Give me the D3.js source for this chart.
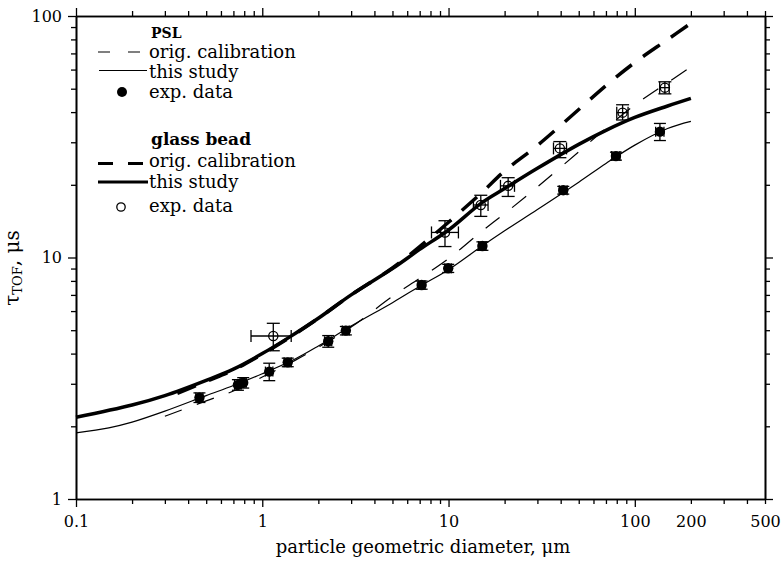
<!DOCTYPE html>
<html>
<head>
<meta charset="utf-8">
<script src="https://cdn.jsdelivr.net/npm/d3@7"></script>
<style>
  body { margin: 0; background: #fff; }
  svg { display: block; }
  text { font-family: "DejaVu Serif", serif; fill: #000; }
</style>
</head>
<body>
<svg id="chart" width="783" height="565"></svg>
<script>
// ---- model curves: diameter (µm) and time of flight (µs) ----
const glassFitD   = [0.1, 0.2, 0.3, 0.5, 0.7, 1.0, 1.4, 2, 3, 5, 7, 10, 15, 20, 30, 50, 70, 100, 150, 200];
const glassFitTau = [2.18, 2.45, 2.68, 3.1, 3.45, 4.0, 4.68, 5.6, 7.0, 9.0, 10.8, 13.0, 16.8, 19.3, 23.4, 29.4, 33.6, 38.0, 42.4, 45.6];

const glassCalD   = [0.35, 0.5, 0.7, 1.0, 1.4, 2, 3, 5, 7, 10, 15, 20, 30, 50, 70, 100, 150, 200];
const glassCalTau = [2.74, 3.07, 3.42, 3.98, 4.66, 5.6, 7.0, 9.05, 11.1, 14.0, 18.5, 22.8, 29.1, 41.0, 51.5, 64.2, 79.9, 93.3];

const pslFitD   = [0.1, 0.15, 0.2, 0.3, 0.5, 0.7, 1.0, 1.5, 2, 3, 5, 7, 10, 15, 20, 30, 50, 70, 100, 150, 200];
const pslFitTau = [1.88, 1.97, 2.08, 2.31, 2.68, 2.95, 3.3, 3.8, 4.3, 5.2, 6.5, 7.6, 8.9, 11.1, 12.9, 15.8, 20.5, 24.5, 29.2, 34.2, 36.6];

const pslCalD   = [0.3, 0.5, 0.7, 1.0, 1.5, 2, 3, 5, 7, 10, 15, 20, 30, 50, 70, 100, 150, 200];
const pslCalTau = [2.2, 2.55, 2.8, 3.2, 3.75, 4.25, 5.15, 6.9, 8.2, 9.9, 12.8, 15.2, 19.6, 27.4, 34.3, 42.8, 53.0, 61.5];

// ---- measurements ----
const pslD      = [0.46, 0.74, 0.79, 1.09, 1.37, 2.26, 2.81, 7.17, 9.96, 15.2, 41.3, 79.2, 136.4];
const pslTau    = [2.63, 2.97, 3.03, 3.37, 3.68, 4.5, 4.98, 7.69, 9.02, 11.16, 19.0, 26.3, 33.2];
const pslTauErr = [0.12, 0.15, 0.15, 0.28, 0.15, 0.25, 0.2, 0.3, 0.35, 0.45, 0.7, 1.0, 2.7];
const pslDErr   = [0.02, 0.03, 0.03, 0.05, 0.06, 0.1, 0.12, 0.3, 0.4, 0.7, 2.0, 4, 7];

const glassD     = [1.146, 9.57, 14.9, 20.9, 39.6, 86, 145];
const glassTau   = [4.73, 12.7, 16.5, 19.8, 28.3, 39.8, 50.5];
const glassTauLo = [4.11, 11.1, 14.8, 17.9, 25.9, 37.1, 47.6];
const glassTauHi = [5.34, 14.2, 18.1, 21.4, 30.2, 42.9, 53.4];
const glassDLo   = [0.87, 8.1, 13.6, 19.0, 36.6, 80, 136];
const glassDHi   = [1.43, 11.3, 16.3, 22.6, 43, 92, 153];

// ---- axis ticks ----
const xMajor = [0.1, 1, 10, 100];
const xMinor = [0.2, 0.3, 0.4, 0.5, 0.6, 0.7, 0.8, 0.9, 2, 3, 4, 5, 6, 7, 8, 9,
                20, 30, 40, 50, 60, 70, 80, 90, 200, 300, 400, 500];
const xMinorLabels = [200, 500];
const yMajor = [1, 10, 100];
const yMinor = [2, 3, 4, 5, 6, 7, 8, 9, 20, 30, 40, 50, 60, 70, 80, 90];

const svg = d3.select("#chart");
const L = 76, R = 765, T = 16, B = 499;
const x = d3.scaleLog().domain([0.1, 500]).range([L, R]);
const y = d3.scaleLog().domain([1, 100]).range([B, T]);

function styleAxis(g) {
  g.select(".domain").attr("stroke", "#000").attr("stroke-width", 1.6);
  g.selectAll(".tick line").attr("stroke", "#000").attr("stroke-width", 1.3);
  g.selectAll(".tick text").attr("font-size", 16).attr("fill", "#000")
    .attr("font-family", "DejaVu Serif, serif");
}

// bottom axis
svg.append("g").attr("transform", `translate(0,${B})`)
  .call(d3.axisBottom(x).tickValues(xMajor).tickSize(8).tickSizeOuter(0).tickPadding(9)
        .tickFormat(d => String(d)))
  .call(styleAxis);
svg.append("g").attr("transform", `translate(0,${B})`)
  .call(d3.axisBottom(x).tickValues(xMinor).tickSize(5).tickSizeOuter(0).tickPadding(12)
        .tickFormat(d => xMinorLabels.includes(d) ? String(d) : ""))
  .call(styleAxis);
// top axis
svg.append("g").attr("transform", `translate(0,${T})`)
  .call(d3.axisTop(x).tickValues(xMajor).tickSize(8).tickSizeOuter(0).tickFormat(""))
  .call(styleAxis);
svg.append("g").attr("transform", `translate(0,${T})`)
  .call(d3.axisTop(x).tickValues(xMinor).tickSize(5).tickSizeOuter(0).tickFormat(""))
  .call(styleAxis);
// left axis
svg.append("g").attr("transform", `translate(${L},0)`)
  .call(d3.axisLeft(y).tickValues(yMajor).tickSize(8).tickSizeOuter(0).tickPadding(6)
        .tickFormat(d => String(d)))
  .call(styleAxis);
svg.append("g").attr("transform", `translate(${L},0)`)
  .call(d3.axisLeft(y).tickValues(yMinor).tickSize(5).tickSizeOuter(0).tickFormat(""))
  .call(styleAxis);
// right axis
svg.append("g").attr("transform", `translate(${R},0)`)
  .call(d3.axisRight(y).tickValues(yMajor).tickSize(8).tickSizeOuter(0).tickFormat(""))
  .call(styleAxis);
svg.append("g").attr("transform", `translate(${R},0)`)
  .call(d3.axisRight(y).tickValues(yMinor).tickSize(5).tickSizeOuter(0).tickFormat(""))
  .call(styleAxis);

// axis titles
svg.append("text").attr("x", 423).attr("y", 553).attr("text-anchor", "middle")
  .attr("font-size", 18).text("particle geometric diameter, μm");

const yt = svg.append("text").attr("transform", "translate(19,268) rotate(-90)")
  .attr("text-anchor", "middle");
yt.append("tspan").attr("font-size", 20).text("τ");
yt.append("tspan").attr("font-size", 13).attr("dy", 3).text("TOF");
yt.append("tspan").attr("font-size", 20).attr("dy", -3).text(", μs");

// curves
const line = d3.line().x(d => x(d[0])).y(d => y(d[1])).curve(d3.curveCatmullRom.alpha(0.5));
const zip = (a, b) => a.map((v, i) => [v, b[i]]);

svg.append("path").datum(zip(pslCalD, pslCalTau)).attr("d", line)
  .attr("fill", "none").attr("stroke", "#000").attr("stroke-width", 1.2)
  .attr("stroke-dasharray", "18,16");
svg.append("path").datum(zip(pslFitD, pslFitTau)).attr("d", line)
  .attr("fill", "none").attr("stroke", "#000").attr("stroke-width", 1.2);
svg.append("path").datum(zip(glassCalD, glassCalTau)).attr("d", line)
  .attr("fill", "none").attr("stroke", "#000").attr("stroke-width", 3.5)
  .attr("stroke-dasharray", "20,14");
svg.append("path").datum(zip(glassFitD, glassFitTau)).attr("d", line)
  .attr("fill", "none").attr("stroke", "#000").attr("stroke-width", 3.5);

// error bars helper
function errBar(g, x1, y1, x2, y2, cap, vertical) {
  g.append("line").attr("x1", x1).attr("y1", y1).attr("x2", x2).attr("y2", y2);
  if (vertical) {
    [y1, y2].forEach(v => g.append("line").attr("x1", x1 - cap).attr("x2", x1 + cap).attr("y1", v).attr("y2", v));
  } else {
    [x1, x2].forEach(v => g.append("line").attr("x1", v).attr("x2", v).attr("y1", y1 - cap).attr("y2", y1 + cap));
  }
}

// PSL measurements (filled)
const gP = svg.append("g").attr("stroke", "#000").attr("stroke-width", 1.3);
pslD.forEach((d, i) => {
  const cx = x(d), cy = y(pslTau[i]);
  errBar(gP, cx, y(pslTau[i] + pslTauErr[i]), cx, y(pslTau[i] - pslTauErr[i]), 6, true);
  errBar(gP, x(d - pslDErr[i]), cy, x(d + pslDErr[i]), cy, 5, false);
});
svg.append("g").selectAll("circle").data(pslD).join("circle")
  .attr("cx", d => x(d)).attr("cy", (d, i) => y(pslTau[i])).attr("r", 5.2).attr("fill", "#000");

// glass bead measurements (open)
const gG = svg.append("g").attr("stroke", "#000").attr("stroke-width", 1.3);
glassD.forEach((d, i) => {
  const cx = x(d), cy = y(glassTau[i]);
  errBar(gG, cx, y(glassTauHi[i]), cx, y(glassTauLo[i]), 6.5, true);
  errBar(gG, x(glassDLo[i]), cy, x(glassDHi[i]), cy, 6, false);
});
svg.append("g").selectAll("circle").data(glassD).join("circle")
  .attr("cx", d => x(d)).attr("cy", (d, i) => y(glassTau[i])).attr("r", 4.6)
  .attr("fill", "none").attr("stroke", "#000").attr("stroke-width", 1.3);

// legend
const lg = svg.append("g");
lg.append("text").attr("x", 151).attr("y", 38).attr("font-size", 14).attr("font-weight", "bold").text("PSL");
lg.append("line").attr("x1", 98).attr("x2", 142).attr("y1", 52).attr("y2", 52)
  .attr("stroke", "#000").attr("stroke-width", 1.2).attr("stroke-dasharray", "12,18");
lg.append("text").attr("x", 149).attr("y", 58).attr("font-size", 18).text("orig. calibration");
lg.append("line").attr("x1", 99).attr("x2", 147).attr("y1", 70.5).attr("y2", 70.5)
  .attr("stroke", "#000").attr("stroke-width", 1.2);
lg.append("text").attr("x", 149).attr("y", 78).attr("font-size", 18).text("this study");
lg.append("circle").attr("cx", 122).attr("cy", 92).attr("r", 5).attr("fill", "#000");
lg.append("text").attr("x", 149).attr("y", 98).attr("font-size", 18).text("exp. data");

lg.append("text").attr("x", 151).attr("y", 145).attr("font-size", 17).attr("font-weight", "bold").text("glass bead");
lg.append("line").attr("x1", 98).attr("x2", 143).attr("y1", 163.5).attr("y2", 163.5)
  .attr("stroke", "#000").attr("stroke-width", 3.2).attr("stroke-dasharray", "15,15");
lg.append("text").attr("x", 149).attr("y", 167).attr("font-size", 18).text("orig. calibration");
lg.append("line").attr("x1", 98).attr("x2", 148).attr("y1", 182).attr("y2", 182)
  .attr("stroke", "#000").attr("stroke-width", 3.2);
lg.append("text").attr("x", 149).attr("y", 188).attr("font-size", 18).text("this study");
lg.append("circle").attr("cx", 121).attr("cy", 207).attr("r", 4.2)
  .attr("fill", "none").attr("stroke", "#000").attr("stroke-width", 1.3);
lg.append("text").attr("x", 149).attr("y", 212).attr("font-size", 18).text("exp. data");
</script>
</body>
</html>
